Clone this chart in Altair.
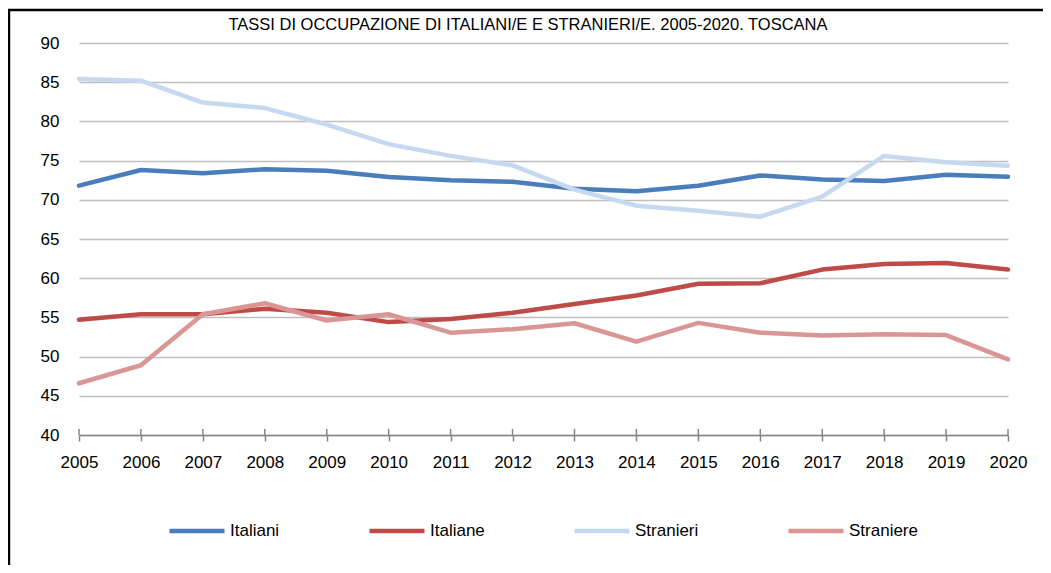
import altair as alt
import pandas as pd

years = list(range(2005, 2021))
series_names = ["Italiani", "Italiane", "Stranieri", "Straniere"]
colors = ["#4A7EBB", "#BE4B48", "#C6D9F1", "#D99694"]

italiani = [71.8, 73.8, 73.4, 73.9, 73.7, 72.9, 72.5, 72.3, 71.4, 71.1, 71.8, 73.1, 72.6, 72.4, 73.2, 72.95]
italiane = [54.7, 55.4, 55.4, 56.1, 55.6, 54.4, 54.8, 55.6, 56.7, 57.8, 59.3, 59.35, 61.1, 61.8, 61.95, 61.1]
stranieri = [85.4, 85.2, 82.4, 81.7, 79.6, 77.1, 75.6, 74.4, 71.3, 69.25, 68.6, 67.85, 70.4, 75.6, 74.8, 74.35]
straniere = [46.6, 48.9, 55.4, 56.8, 54.6, 55.4, 53.05, 53.5, 54.25, 51.9, 54.3, 53.05, 52.7, 52.85, 52.75, 49.65]

y_ticks = [40, 45, 50, 55, 60, 65, 70, 75, 80, 85, 90]
title_text = "TASSI DI OCCUPAZIONE DI ITALIANI/E E STRANIERI/E. 2005-2020. TOSCANA"

rows = []
for name, vals in zip(series_names, [italiani, italiane, stranieri, straniere]):
    for yr, v in zip(years, vals):
        rows.append({"anno": yr, "valore": v, "serie": name, "ord": series_names.index(name)})
df = pd.DataFrame(rows)
df_years = pd.DataFrame({"anno": years})
frame_df = pd.DataFrame({"k": [0]})

FONT = "Liberation Sans"
FS = 17

lines = alt.Chart(df).mark_line(strokeWidth=4.5, strokeJoin="round", strokeCap="round").encode(
    x=alt.X("anno:Q",
            scale=alt.Scale(domain=[2005, 2020], nice=False, zero=False),
            axis=alt.Axis(values=years, format="d", title=None, grid=False,
                          domain=True, domainColor="#868686", domainWidth=1.5,
                          ticks=True, tickColor="#868686", tickWidth=1.5, tickSize=6,
                          labelPadding=13, labelFontSize=FS, labelFont=FONT,
                          labelColor="#000000", labelFlush=False)),
    y=alt.Y("valore:Q",
            scale=alt.Scale(domain=[40, 90], nice=False, zero=False),
            axis=alt.Axis(values=y_ticks, title=None, grid=True, gridColor="#BFBFBF",
                          gridWidth=1.3, domain=False, ticks=False, tickSize=0,
                          labelPadding=20, labelFontSize=FS, labelFont=FONT,
                          labelColor="#000000")),
    color=alt.Color("serie:N",
                    scale=alt.Scale(domain=series_names, range=colors),
                    sort=series_names,
                    legend=alt.Legend(title=None, orient="none", direction="horizontal",
                                      columns=4, legendX=88, legendY=458,
                                      symbolType="stroke", symbolSize=3025,
                                      symbolStrokeWidth=4.5, labelOffset=3,
                                      columnPadding=80, labelFontSize=FS,
                                      labelFont=FONT, labelColor="#000000",
                                      padding=0)),
    order=alt.Order("ord:Q"),
    detail="serie:N",
)

upper_ticks = alt.Chart(df_years).mark_rule(color="#868686", strokeWidth=1.5).encode(
    x=alt.X("anno:Q"),
    y=alt.value(386),
    y2=alt.value(392),
)

frame = alt.Chart(frame_df).mark_rect(fill=None, stroke="#000000", strokeWidth=2.4).encode(
    x=alt.value(-70),
    x2=alt.value(1010),
    y=alt.value(-33),
    y2=alt.value(560),
)

title = alt.Chart(frame_df).mark_text(
    text=title_text, font=FONT, fontSize=16.5, color="#000000",
    align="center", baseline="alphabetic",
).encode(
    x=alt.value(449),
    y=alt.value(-13),
)

chart = alt.layer(frame, title, upper_ticks, lines).properties(
    width=929,
    height=392,
    autosize=alt.AutoSizeParams(type="none"),
    padding={"left": 71, "top": 35, "right": 35, "bottom": 130},
).configure_view(stroke=None)

chart.save("out.html", embed_options={"renderer": "svg", "actions": False})
